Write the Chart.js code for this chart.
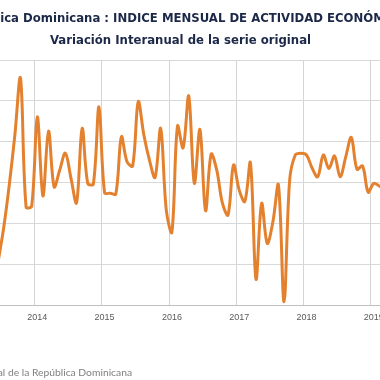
<!DOCTYPE html>
<html><head><meta charset="utf-8">
<script src="https://cdn.jsdelivr.net/npm/chart.js@4.4.1/dist/chart.umd.min.js"></script>
<style>
html,body{margin:0;padding:0;background:#fff;overflow:hidden;width:380px;height:380px;position:relative}
#wrap{position:absolute;left:-100px;top:0;width:561px;height:380px}
#src{position:absolute;right:248px;top:366px;font:10.3px Lato, sans-serif;color:#808080;white-space:nowrap;line-height:12px}
</style></head><body>
<div id="wrap"><canvas id="c"></canvas></div>
<div id="src">Fuente: Banco Central de la República Dominicana</div>
<script>
const titleText = 'República Dominicana : INDICE MENSUAL DE ACTIVIDAD ECONÓMICA';
const subtitleText = 'Variación Interanual de la serie original';
const months = [
 '2013-06','2013-07','2013-08','2013-09','2013-10','2013-11','2013-12',
 '2014-01','2014-02','2014-03','2014-04','2014-05','2014-06','2014-07','2014-08','2014-09','2014-10','2014-11','2014-12',
 '2015-01','2015-02','2015-03','2015-04','2015-05','2015-06','2015-07','2015-08','2015-09','2015-10','2015-11','2015-12',
 '2016-01','2016-02','2016-03','2016-04','2016-05','2016-06','2016-07','2016-08','2016-09','2016-10','2016-11','2016-12',
 '2017-01','2017-02','2017-03','2017-04','2017-05','2017-06','2017-07','2017-08','2017-09','2017-10','2017-11','2017-12',
 '2018-01','2018-02','2018-03','2018-04','2018-05','2018-06','2018-07','2018-08','2018-09','2018-10','2018-11','2018-12',
 '2019-01','2019-02','2019-03'
];
const variacion = [
 2.10, 3.77, 5.88, 8.33, 11.12, 4.80, 4.85,
 9.22, 5.34, 8.52, 5.79, 6.61, 7.44, 6.22, 5.01, 8.65, 5.96, 5.93, 9.71,
 5.50, 5.48, 5.44, 8.24, 7.02, 6.81, 9.96, 8.33, 7.10, 6.25, 8.65, 4.65,
 3.57, 8.77, 7.70, 10.24, 5.96, 8.60, 4.62, 7.39, 6.61, 5.00, 4.41, 6.86,
 5.63, 5.07, 6.97, 1.26, 4.98, 3.02, 4.06, 5.88, 0.16, 6.12, 7.35, 7.44,
 7.35, 6.71, 6.28, 7.35, 6.69, 7.30, 6.28, 7.26, 8.21, 6.65, 6.81, 5.53,
 5.96, 5.83, 5.73
];
const yMin = 0, yMax = 12, yStep = 2;

const isJan = i => typeof i === 'number' && months[i] && months[i].endsWith('-01');
const titleFont = {family:'DejaVu Sans', size:11.7, weight:'bold'};

new Chart(document.getElementById('c'), {
  type: 'line',
  data: {
    labels: months,
    datasets: [{
      data: variacion,
      borderColor: '#E4812F',
      borderWidth: 3,
      pointRadius: 0,
      tension: 0.35,
      fill: false,
      borderCapStyle: 'round',
      borderJoinStyle: 'round'
    }]
  },
  options: {
    responsive: true,
    maintainAspectRatio: false,
    animation: false,
    layout: {padding: 0},
    plugins: {
      legend: {display: false},
      tooltip: {enabled: false},
      title: {display: true, text: titleText, color: '#1C2848', font: titleFont, padding: {top: 12, bottom: 8}},
      subtitle: {display: true, text: subtitleText, color: '#1C2848', font: titleFont, padding: {top: 0, bottom: 12}}
    },
    scales: {
      x: {
        type: 'category',
        offset: true,
        grid: {offset: true, drawTicks: false, lineWidth: 1,
          color: c => isJan(c.index) ? '#d4d4d4' : 'rgba(0,0,0,0)'},
        border: {display: true, color: '#bfbfbf', width: 1},
        ticks: {autoSkip: false, maxRotation: 0, minRotation: 0, padding: 7, color: '#595959',
          font: {family: 'Liberation Sans', size: 9},
          callback: (v, i) => isJan(i) ? months[i].slice(0, 4) : ''},
        afterFit: s => { s.height = 75; }
      },
      y: {
        min: yMin, max: yMax,
        ticks: {stepSize: yStep, color: '#595959', font: {family: 'Liberation Sans', size: 9}},
        grid: {color: '#d9d9d9', drawTicks: false},
        border: {display: false},
        afterFit: s => { s.width = 95.24; }
      },
      y2: {
        type: 'linear', position: 'right', display: true,
        grid: {display: false}, ticks: {display: false}, border: {display: false},
        afterFit: s => { s.width = 73.2; }
      }
    }
  }
});
</script>
</body></html>
